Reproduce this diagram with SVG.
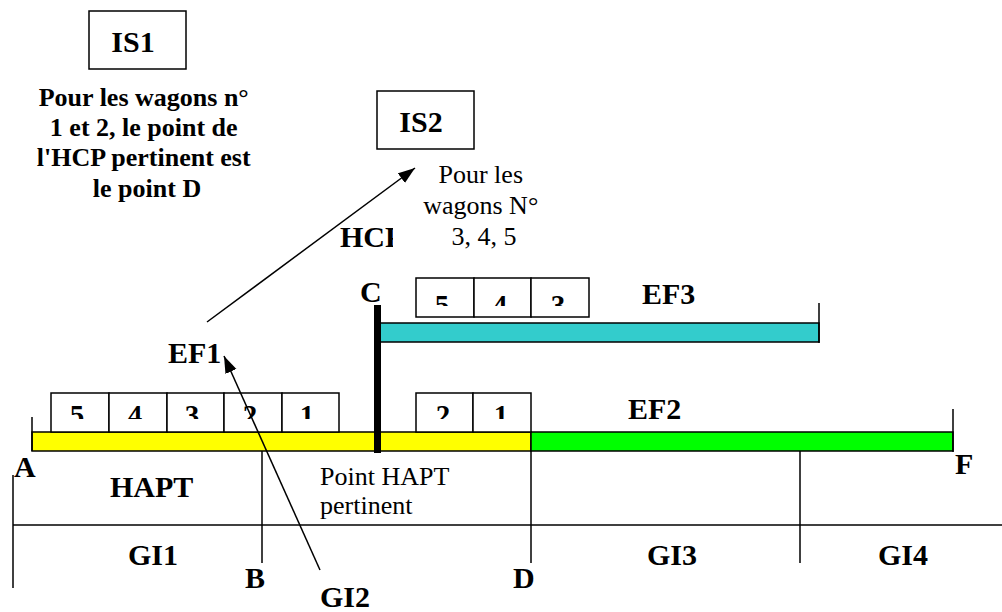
<svg xmlns="http://www.w3.org/2000/svg" width="1002" height="612" viewBox="0 0 1002 612">
<style>
.b{font-family:"Liberation Serif","Times New Roman",serif;font-weight:bold;font-size:30px;fill:#000}
.p{font-family:"Liberation Serif","Times New Roman",serif;font-weight:bold;font-size:26px;fill:#000}
.r{font-family:"Liberation Serif","Times New Roman",serif;font-size:26px;fill:#000}
.d{font-family:"Liberation Serif","Times New Roman",serif;font-weight:bold;font-size:29px;fill:#000}
.box{fill:#fff;stroke:#000;stroke-width:1.5}
.ln{stroke:#000;stroke-width:1.5;fill:none}
.bar{stroke:#000;stroke-width:1.5}
</style>
<defs>
<marker id="ah" markerUnits="userSpaceOnUse" markerWidth="18" markerHeight="14" refX="17" refY="6" orient="auto">
<path d="M0,0 L17,6 L0,12 z" fill="#000"/>
</marker>
<clipPath id="cHCP"><rect x="330" y="200" width="63" height="60"/></clipPath>
<clipPath id="cTop"><rect x="410" y="270" width="190" height="36"/></clipPath>
<clipPath id="cLow"><rect x="40" y="390" width="500" height="29"/></clipPath>
</defs>
<rect width="1002" height="612" fill="#fff"/>

<g id="IS1">
<rect class="box" x="89" y="11" width="97" height="58"/>
<text class="b" x="133" y="52" text-anchor="middle">IS1</text>
</g>
<g id="note1">
<text class="p" text-anchor="middle">
<tspan x="147" y="106">Pour les wagons n°</tspan>
<tspan x="147" y="136">1 et 2, le point de</tspan>
<tspan x="147" y="166">l'HCP pertinent est</tspan>
<tspan x="147" y="197">le point D</tspan>
</text>
</g>
<g id="IS2">
<rect class="box" x="377" y="91" width="97" height="58"/>
<text class="b" x="421" y="132" text-anchor="middle">IS2</text>
</g>
<g id="note2">
<text class="r" text-anchor="middle">
<tspan x="484" y="183">Pour les</tspan>
<tspan x="484" y="214">wagons N°</tspan>
<tspan x="484" y="245">3, 4, 5</tspan>
</text>
</g>
<g id="HCP"><text class="b" x="340" y="247" clip-path="url(#cHCP)">HCP</text></g>

<g id="EF3">
<rect class="bar" x="378" y="323" width="441" height="19" fill="#33CCCC"/>
<line class="ln" x1="819" y1="303" x2="819" y2="343"/>
<text class="b" x="642" y="304">EF3</text>
</g>
<g id="wagonsEF3">
<rect class="box" x="416" y="278" width="58" height="39"/>
<rect class="box" x="474" y="278" width="57" height="39"/>
<rect class="box" x="531" y="278" width="58" height="39"/>
<g clip-path="url(#cTop)">
<text class="d" x="442" y="315" text-anchor="middle">5</text>
<text class="d" x="500" y="315" text-anchor="middle">4</text>
<text class="d" x="558" y="315" text-anchor="middle">3</text>
</g>
</g>

<g id="track">
<rect class="bar" x="32" y="432" width="499" height="19" fill="#FFFF00"/>
<rect class="bar" x="531" y="432" width="422" height="19" fill="#00FF00"/>
<line class="ln" x1="32" y1="417" x2="32" y2="451"/>
<line class="ln" x1="953" y1="409" x2="953" y2="452"/>
<rect x="374" y="305" width="7" height="148" fill="#000"/>
</g>
<g id="wagonsEF1">
<rect class="box" x="51" y="393" width="58" height="39"/>
<rect class="box" x="109" y="393" width="58" height="39"/>
<rect class="box" x="167" y="393" width="57" height="39"/>
<rect class="box" x="224" y="393" width="58" height="39"/>
<rect class="box" x="282" y="393" width="57" height="39"/>
<rect class="box" x="416" y="393" width="57" height="39"/>
<rect class="box" x="473" y="393" width="58" height="39"/>
<g clip-path="url(#cLow)">
<text class="d" x="77" y="425" text-anchor="middle">5</text>
<text class="d" x="135" y="425" text-anchor="middle">4</text>
<text class="d" x="192" y="425" text-anchor="middle">3</text>
<text class="d" x="250" y="425" text-anchor="middle">2</text>
<text class="d" x="307" y="425" text-anchor="middle">1</text>
<text class="d" x="443" y="425" text-anchor="middle">2</text>
<text class="d" x="501" y="425" text-anchor="middle">1</text>
</g>
</g>

<g id="grid">
<line class="ln" x1="13" y1="475" x2="13" y2="588"/>
<line class="ln" x1="13" y1="525" x2="1002" y2="525"/>
<line class="ln" x1="262" y1="451" x2="262" y2="563"/>
<line class="ln" x1="531" y1="451" x2="531" y2="563"/>
<line class="ln" x1="800" y1="451" x2="800" y2="563"/>
</g>

<g id="labels">
<text class="b" x="14" y="477">A</text>
<text class="b" x="955" y="474">F</text>
<text class="b" x="360" y="302">C</text>
<text class="b" x="168" y="363">EF1</text>
<text class="b" x="628" y="419">EF2</text>
<text class="b" x="110" y="497">HAPT</text>
<text class="r" x="320" y="485">Point HAPT</text>
<text class="r" x="320" y="514">pertinent</text>
<text class="b" x="128" y="565">GI1</text>
<text class="b" x="245" y="588">B</text>
<text class="b" x="320" y="607">GI2</text>
<text class="b" x="513" y="588">D</text>
<text class="b" x="647" y="565">GI3</text>
<text class="b" x="878" y="565">GI4</text>
</g>

<g id="connectors">
<line class="ln" x1="207" y1="322" x2="415" y2="168" marker-end="url(#ah)"/>
<line class="ln" x1="320" y1="570" x2="224" y2="356" marker-end="url(#ah)"/>
</g>
</svg>
